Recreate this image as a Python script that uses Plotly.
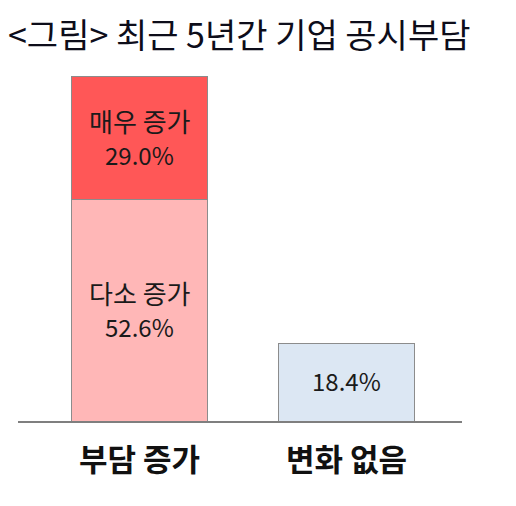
import plotly.graph_objects as go

# data (%)
categories = ["부담 증가", "변화 없음"]
much_more = [29.0, None]
some_more = [52.6, None]
no_change = [None, 18.4]
seg_names = ["다소 증가", "매우 증가"]

font_kr = "Noto Sans CJK KR"
edge = dict(color="#8C8C8C", width=1)

fig = go.Figure()
fig.add_trace(go.Bar(x=categories, y=some_more, marker=dict(color="#FFB7B7", line=edge)))
fig.add_trace(go.Bar(x=categories, y=much_more, marker=dict(color="#FF5757", line=edge)))
fig.add_trace(go.Bar(x=categories, y=no_change, marker=dict(color="#DCE7F3", line=edge)))
fig.update_traces(width=0.66, hoverinfo="skip")

# labels in the middle of each segment
c0 = categories[0]
mids = [some_more[0] / 2, some_more[0] + much_more[0] / 2]
vals = [some_more[0], much_more[0]]
for name, v, m in zip(seg_names, vals, mids):
    fig.add_annotation(x=c0, y=m, yshift=18, text=name, showarrow=False,
                       font=dict(family=font_kr, size=26, color="#1a1a1a"))
    fig.add_annotation(x=c0, y=m, yshift=-16, text="%.1f%%" % v, showarrow=False,
                       font=dict(family=font_kr, size=24, color="#1a1a1a"))
fig.add_annotation(x=categories[1], y=no_change[1] / 2, yshift=2,
                   text="%.1f%%" % no_change[1], showarrow=False,
                   font=dict(family=font_kr, size=24, color="#1a1a1a"))

# category labels under the baseline
for c in categories:
    fig.add_annotation(
        x=c, y=0, yshift=-36,
        text="<b>%s</b>" % c, showarrow=False,
        font=dict(family=font_kr, size=31, color="#111111"),
    )

fig.update_layout(
    barmode="stack",
    width=516, height=506,
    paper_bgcolor="white", plot_bgcolor="white",
    showlegend=False,
    margin=dict(l=10, r=62, t=52, b=93),
    title=dict(
        text="<그림> 최근 5년간 기업 공시부담",
        xref="container", x=0, xanchor="left",
        yref="container", y=0.945, yanchor="middle",
        font=dict(family=font_kr, size=34, color="#0d0d1a"),
    ),
    xaxis=dict(
        range=[-0.587, 1.558],
        showticklabels=False, showgrid=False, zeroline=False,
        showline=True, linecolor="#7f7f7f", linewidth=2,
    ),
    yaxis=dict(range=[0, 85.6], visible=False),
)

fig.write_html("out.html")
